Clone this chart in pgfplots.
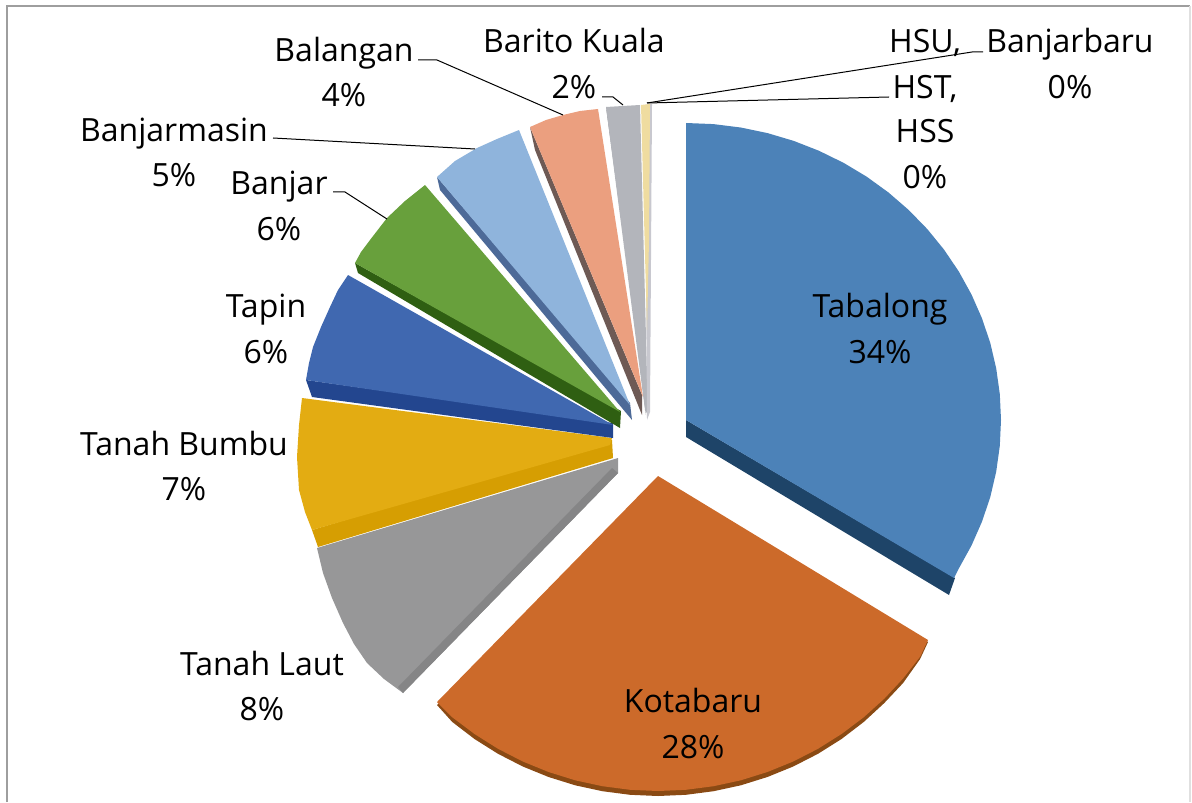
\documentclass[border=0pt]{standalone}
\usepackage{fontspec}
\setmainfont{Open Sans}
\usepackage{pgfplots}
\pgfplotsset{compat=1.18}

\definecolor{tabA}{HTML}{4C82B8}\definecolor{tabB}{HTML}{1E4468}
\definecolor{kotA}{HTML}{CC6A2A}\definecolor{kotB}{HTML}{8A4A14}
\definecolor{lauA}{HTML}{979798}\definecolor{lauB}{HTML}{858586}
\definecolor{bumA}{HTML}{E3AC12}\definecolor{bumB}{HTML}{D69E02}
\definecolor{tapA}{HTML}{4068B0}\definecolor{tapB}{HTML}{23468F}
\definecolor{banA}{HTML}{68A03C}\definecolor{banB}{HTML}{2F5F12}
\definecolor{masA}{HTML}{8FB4DC}\definecolor{masB}{HTML}{4D6A98}
\definecolor{balA}{HTML}{EB9F7F}\definecolor{balB}{HTML}{6E5A55}
\definecolor{barA}{HTML}{B3B5BB}\definecolor{barB}{HTML}{7E8086}
\definecolor{hsuA}{HTML}{EFDCA0}\definecolor{bjbA}{HTML}{C8C8CF}

\tikzset{lbl/.style={anchor=base, font=\fontsize{16}{18}\selectfont, inner sep=0pt, text=black}}

\begin{document}
\begin{tikzpicture}
\begin{axis}[
    scale only axis,
    width=596pt,
    height=401pt,
    xmin=0, xmax=1192,
    ymin=0, ymax=802,
    y dir=reverse,
    hide axis,
    clip=true,
]
% keep the whole page
\path (axis cs:0,0) rectangle (axis cs:1192,802);
% frame
\addplot[color=black!38, line width=0.6pt] coordinates {(7,802) (7,6) (1190,6)};
\addplot[color=black!12, line width=0.6pt] coordinates {(1190,6) (1190,802)};

% Tanah Laut
\addplot[fill=lauA, draw=none] coordinates {(317,548) (323,573) (332,598) (343,623) (354,644) (367,663) (384,679) (403,693) (618,473) (618,458)} --cycle;
\addplot[fill=lauB, draw=none] coordinates {(403,693) (398,687) (612,468) (618,473)} --cycle;
% Tanah Bumbu
\addplot[fill=bumB, draw=none] coordinates {(312,530) (318,547) (613,458) (612,440)} --cycle;
\addplot[fill=bumA, draw=none] coordinates {(302,398) (299,425) (297,457) (299,490) (305,512) (312,530) (610,445) (612,438)} --cycle;
% Tapin
\addplot[fill=tapB, draw=none] coordinates {(306,380) (312,397) (613,438) (613,423)} --cycle;
\addplot[fill=tapA, draw=none] coordinates {(348,275) (338,290) (330,307) (321,327) (313,347) (309,363) (306,380) (613,425)} --cycle;
% Banjar
\addplot[fill=banB, draw=none] coordinates {(355,263) (358,273) (620,428) (621,411)} --cycle;
\addplot[fill=banA, draw=none] coordinates {(425,185) (405,201) (387,218) (370,240) (361,252) (355,263) (620,412)} --cycle;
% Banjarmasin
\addplot[fill=masB, draw=none] coordinates {(437,177) (440,190) (632,420) (630,403)} --cycle;
\addplot[fill=masA, draw=none] coordinates {(519,130) (497,139) (477,148) (455,161) (437,177) (630,405)} --cycle;
% Balangan
\addplot[fill=balB, draw=none] coordinates {(530,127) (535,150) (642,415) (642,395)} --cycle;
\addplot[fill=balA, draw=none] coordinates {(530,127) (546,120) (563,115) (580,111) (598,109) (643,397)} --cycle;
% Barito Kuala
\addplot[fill=barB, draw=none] coordinates {(606,107) (610,125) (646,415) (645,395)} --cycle;
\addplot[fill=barA, draw=none] coordinates {(606,107) (640,105) (648,415) (645,410)} --cycle;
% HSU HST HSS, Banjarbaru
\addplot[fill=bjbA, draw=none] coordinates {(645,105) (652,104) (650,412) (647,420)} --cycle;
\addplot[fill=hsuA, draw=none] coordinates {(641,105) (650,104) (649,240) (647,330)} --cycle;

% Tabalong
\addplot[fill=tabB, draw=none] coordinates {(686,420) (955,578) (949,595) (686,437)} --cycle;
\addplot[fill=tabA, draw=none] coordinates {
    (686,123) (713.5,124.1) (740.7,127.5) (767.5,133.1) (793.7,140.9) (819,150.8)
    (843.5,162.8) (866.7,176.7) (888.5,192.5) (908.7,210) (927.3,229.1) (944,249.6)
    (958.8,271.5) (971.5,294.5) (982,318.4) (990.3,343.1) (996.2,368.4) (999.8,394.1)
    (1001,420) (999.8,445.9) (996.2,471.6) (990.3,496.9) (982,521.6) (971.5,545.5)
    (958.8,568.5) (954,578) (686,420)} --cycle;

% Kotabaru
\addplot[fill=kotB, draw=none] coordinates {
    (928,642) (920.1,659) (903.1,683) (884.3,703) (863.7,722) (841.5,739) (818,753.8)
    (793.2,766.5) (767.4,777) (740.8,785.3) (713.6,791.2) (685.9,794.8) (658,796)
    (630.1,794.8) (602.4,791.2) (575.2,785.3) (548.6,777) (522.8,766.5) (498,753.8)
    (474.5,739) (452.3,722) (437,705) (658,500)} --cycle;
\addplot[fill=kotA, draw=none] coordinates {
    (658,476) (928,640) (920.1,656.7) (903.1,678.5) (884.3,698.7) (863.7,717.3) (841.5,734)
    (818,748.8) (793.2,761.5) (767.4,772) (740.8,780.3) (713.6,786.2) (685.9,789.8) (658,791)
    (630.1,789.8) (602.4,786.2) (575.2,780.3) (548.6,772) (522.8,761.5) (498,748.8)
    (474.5,734) (452.3,717.3) (437,702)} --cycle;

% leader lines
\addplot[black, line width=0.5pt] coordinates {(418,60) (437,60) (563,115)};
\addplot[black, line width=0.5pt] coordinates {(273,138) (475,149)};
\addplot[black, line width=0.5pt] coordinates {(333,192) (345,192) (387,219)};
\addplot[black, line width=0.5pt] coordinates {(602,97) (613,97) (623,105)};
\addplot[black, line width=0.5pt] coordinates {(647,103) (889,97)};
\addplot[black, line width=0.5pt] coordinates {(647,103) (972,52) (983,52)};

% labels
\node[lbl] at (axis cs:880,317) {Tabalong};
\node[lbl] at (axis cs:880,363) {34\%};
\node[lbl] at (axis cs:693,712) {Kotabaru};
\node[lbl] at (axis cs:693,758) {28\%};
\node[lbl] at (axis cs:262,675) {Tanah Laut};
\node[lbl] at (axis cs:262,720) {8\%};
\node[lbl] at (axis cs:184,455) {Tanah Bumbu};
\node[lbl] at (axis cs:184,500) {7\%};
\node[lbl] at (axis cs:266,317) {Tapin};
\node[lbl] at (axis cs:266,363) {6\%};
\node[lbl] at (axis cs:279,195) {Banjar};
\node[lbl] at (axis cs:279,241) {6\%};
\node[lbl] at (axis cs:174,142) {Banjarmasin};
\node[lbl] at (axis cs:174,187) {5\%};
\node[lbl] at (axis cs:344,62) {Balangan};
\node[lbl] at (axis cs:344,107) {4\%};
\node[lbl] at (axis cs:574,53) {Barito Kuala};
\node[lbl] at (axis cs:574,99) {2\%};
\node[lbl] at (axis cs:925,53) {HSU,};
\node[lbl] at (axis cs:925,99) {HST,};
\node[lbl] at (axis cs:925,143) {HSS};
\node[lbl] at (axis cs:925,189) {0\%};
\node[lbl] at (axis cs:1070,53) {Banjarbaru};
\node[lbl] at (axis cs:1070,99) {0\%};
\end{axis}
\end{tikzpicture}
\end{document}
